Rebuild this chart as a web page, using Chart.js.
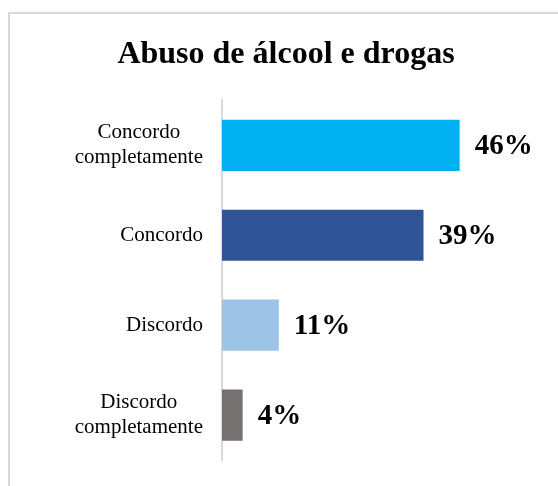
<!DOCTYPE html>
<html>
<head>
<meta charset="utf-8">
<script src="https://cdn.jsdelivr.net/npm/chart.js@4"></script>
<style>
  html, body { margin: 0; padding: 0; background: #fff; overflow: hidden; }
  #wrap { position: relative; width: 558px; height: 486px; }
  #frame { position: absolute; left: 8px; top: 12px; width: 700px; height: 700px; border: 2px solid #D9D9D9; box-sizing: border-box; }
  #c { position: absolute; left: 0; top: 0; }
</style>
</head>
<body>
<div id="wrap">
  <div id="frame"></div>
  <canvas id="c" width="558" height="486"></canvas>
</div>
<script>
const categories = [["Concordo", "completamente"], "Concordo", "Discordo", ["Discordo", "completamente"]];
const values = [46, 39, 11, 4];
const barColors = ["#00B0F0", "#2F5597", "#9DC3E6", "#767171"];
const titleText = "Abuso de álcool e drogas";

const SERIF = "'Liberation Serif', 'Times New Roman', serif";
const TICK_SIZE = 21;

// Multi-line category labels: centre the lines inside a right-aligned block (as in the original)
const labelAlign = {
  id: 'labelAlign',
  beforeDraw(chart) {
    const scale = chart.scales.y;
    const items = scale.getLabelItems(chart.chartArea);
    const ctx = chart.ctx;
    ctx.save();
    ctx.font = TICK_SIZE + "px " + SERIF;
    items.forEach(item => {
      if (item._adj || !Array.isArray(item.label)) return;
      const w = Math.max(...item.label.map(s => ctx.measureText(s).width));
      item.options.textAlign = 'center';
      item.options.translation[0] -= w / 2;
      item._adj = true;
    });
    ctx.restore();
  }
};

const valueLabels = {
  id: 'valueLabels',
  afterDatasetsDraw(chart) {
    const ctx = chart.ctx;
    const meta = chart.getDatasetMeta(0);
    ctx.save();
    ctx.font = "bold 29px " + SERIF;
    ctx.fillStyle = "#000";
    ctx.textAlign = "left";
    ctx.textBaseline = "middle";
    meta.data.forEach((bar, i) => {
      ctx.fillText(values[i] + "%", bar.x + 15, bar.y + 1);
    });
    ctx.restore();
  }
};

new Chart(document.getElementById('c'), {
  type: 'bar',
  data: {
    labels: categories,
    datasets: [{
      data: values,
      backgroundColor: barColors,
      borderWidth: 0,
      categoryPercentage: 1,
      barPercentage: 0.57
    }]
  },
  options: {
    indexAxis: 'y',
    responsive: false,
    animation: false,
    devicePixelRatio: 1,
    layout: { padding: { left: 40, right: 26, top: 36, bottom: 26 } },
    plugins: {
      legend: { display: false },
      tooltip: { enabled: false },
      title: {
        display: true,
        text: titleText,
        color: "#000",
        font: { family: SERIF, size: 32, weight: 'bold', lineHeight: 1.2 },
        padding: { top: 0, bottom: 26 }
      }
    },
    scales: {
      x: { display: false, min: 0, max: 60 },
      y: {
        grid: { display: false, drawTicks: false, tickLength: 0 },
        border: { display: true, color: "#D9D9D9", width: 2 },
        ticks: {
          color: "#000",
          padding: 19,
          font: { family: SERIF, size: TICK_SIZE, lineHeight: 1.18 }
        },
        afterFit(scale) { scale.width = 182; scale.paddingTop = 0; scale.paddingBottom = 0; }
      }
    }
  },
  plugins: [labelAlign, valueLabels]
});
</script>
</body>
</html>
